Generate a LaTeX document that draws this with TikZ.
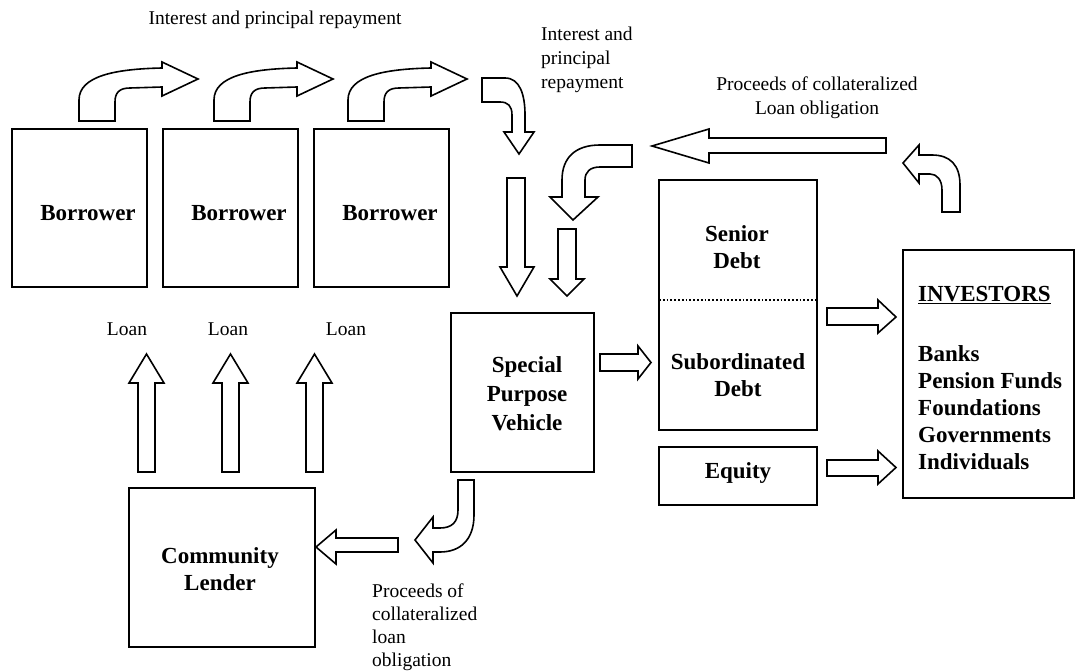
\documentclass[tikz,border=0pt]{standalone}
\usepackage{fontspec}
\setmainfont{Liberation Serif}
\begin{document}
\begin{tikzpicture}[x=1pt,y=-1pt,
  box/.style={draw, line width=1.8pt, inner sep=0pt, outer sep=0pt},
  blockarrow/.style={draw, line width=1.6pt, fill=white, line join=miter},
  bt/.style={font=\fontsize{23}{27}\selectfont\bfseries, align=center, inner sep=0pt},
  rt/.style={font=\fontsize{19.5}{24}\selectfont, inner sep=0pt}]
\useasboundingbox (0,0) rectangle (1076,671);

% ---- boxes
\node[box, minimum width=135pt, minimum height=158pt] (b1) at (79.5,208) {};
\node[box, minimum width=135pt, minimum height=158pt] (b2) at (230.5,208) {};
\node[box, minimum width=135pt, minimum height=158pt] (b3) at (381.5,208) {};
\node[bt] (tb1) at (88,213) {Borrower};
\node[bt] (tb2) at (239,213) {Borrower};
\node[bt] (tb3) at (390,213) {Borrower};

\node[box, minimum width=158pt, minimum height=250pt] (debt) at (738,305) {};
\draw[line width=1.8pt, dotted] (debt.west |- 0,300) coordinate (dl) -- (debt.east |- 0,300) coordinate (dr);
\node[bt] (tsen) at (737,247) {Senior\\Debt};
\node[bt] (tsub) at (738,375) {Subordinated\\Debt};
\node[box, minimum width=158pt, minimum height=58pt] (eq) at (738,476) {};
\node[bt] (teq) at (738,473) {Equity};

\node[box, minimum width=171pt, minimum height=248pt] (inv) at (988.5,374) {};
\node[bt, anchor=west] (tinv) at (918,295) {\underline{INVESTORS}};
\node[bt, anchor=west, align=left] (tinvl) at (918,408) {Banks\\Pension Funds\\Foundations\\Governments\\Individuals};

\node[box, minimum width=143pt, minimum height=159pt] (spv) at (522.5,392.5) {};
\node[bt, font=\fontsize{23}{29}\selectfont\bfseries] (tspv) at (527,394) {Special\\Purpose\\Vehicle};

\node[box, minimum width=186pt, minimum height=159pt] (cl) at (222,567.5) {};
\node[bt] (tcl) at (220,569) {Community\\Lender};

% ---- labels
\node[rt] (l1) at (275,20) {Interest and principal repayment};
\node[rt, anchor=west, align=left] (l2) at (541,60) {Interest and\\principal\\repayment};
\node[rt, align=center] (l3) at (817,98) {Proceeds of collateralized\\Loan obligation};
\node[rt, anchor=west, align=left, font=\fontsize{19.5}{23}\selectfont] (l4) at (372,627) {Proceeds of\\collateralized\\loan\\obligation};
\node[rt] (ln1) at (127,329) {Loan};
\node[rt] (ln2) at (228,329) {Loan};
\node[rt] (ln3) at (346,329) {Loan};

% ---- curved arrows above borrowers
\foreach \dx in {0,135,269}{
  \draw[blockarrow, shift={(\dx,0)}] (79,121) -- (79,100) .. controls (79,76) and (115,69) .. (162,68)
    -- (162,62) -- (198,79) -- (162,96) -- (162,87) -- (130,88)
    .. controls (119,88) and (115,93) .. (115,102) -- (115,121) -- cycle;
}

% ---- curved arrow down (repayment to SPV)
\draw[blockarrow] (482,78) -- (505,78) .. controls (520,78) and (525,95) .. (525,115)
  -- (525,132) -- (534,132) -- (519,154) -- (504,132) -- (512,132) -- (512,115)
  .. controls (512,106) and (508,102) .. (500,102) -- (482,102) -- cycle;

% ---- straight down arrows into SPV
\draw[blockarrow] (507,178) -- (525,178) -- (525,267) -- (534,267) -- (517,296) -- (500,267) -- (507,267) -- cycle;
\draw[blockarrow] (558,229) -- (576,229) -- (576,279) -- (584,279) -- (567,296) -- (550,279) -- (558,279) -- cycle;

% ---- curved arrow from right going down-left
\draw[blockarrow] (632,145) -- (600,145) .. controls (575,145) and (562,158) .. (562,180)
  -- (562,197) -- (550,197) -- (573,220) -- (598,197) -- (585,197) -- (585,180)
  .. controls (585,172) and (590,167) .. (600,167) -- (632,167) -- cycle;

% ---- long left arrow
\draw[blockarrow] (886,138) -- (886,153) -- (709,153) -- (709,163) -- (652,146) -- (709,129) -- (709,138) -- cycle;

% ---- up-left curved arrow from investors
\draw[blockarrow] (960,212) -- (960,185) .. controls (960,165) and (950,155) .. (932,155)
  -- (919,155) -- (919,145) -- (903,163) -- (919,183) -- (919,174) -- (930,174)
  .. controls (937,174) and (942,180) .. (942,190) -- (942,212) -- cycle;

% ---- arrows to investors
\draw[blockarrow] (827,308) -- (878,308) -- (878,300) -- (896,317) -- (878,333) -- (878,325) -- (827,325) -- cycle;
\draw[blockarrow] (827,460) -- (878,460) -- (878,451) -- (896,467.5) -- (878,484) -- (878,476) -- (827,476) -- cycle;

% ---- SPV to subordinated
\draw[blockarrow] (600,354) -- (638,354) -- (638,346) -- (651,362.5) -- (638,379) -- (638,371) -- (600,371) -- cycle;

% ---- loan arrows
\foreach \a in {138,222,306}{
  \draw[blockarrow] (\a,472) -- (\a,383) -- (\a-9,383) -- (\a+8.5,354) -- (\a+26,383) -- (\a+17,383) -- (\a+17,472) -- cycle;
}

% ---- curved arrow below SPV
\draw[blockarrow] (458,480) -- (474,480) -- (474,515) .. controls (474,540) and (460,552) .. (440,552)
  -- (433,552) -- (433,563) -- (415,540) -- (433,517) -- (433,528) -- (440,528)
  .. controls (452,528) and (458,522) .. (458,510) -- cycle;

% ---- left arrow to community lender
\draw[blockarrow] (398,538) -- (398,552) -- (336,552) -- (336,564) -- (316,547) -- (336,530) -- (336,538) -- cycle;
\end{tikzpicture}
\end{document}
